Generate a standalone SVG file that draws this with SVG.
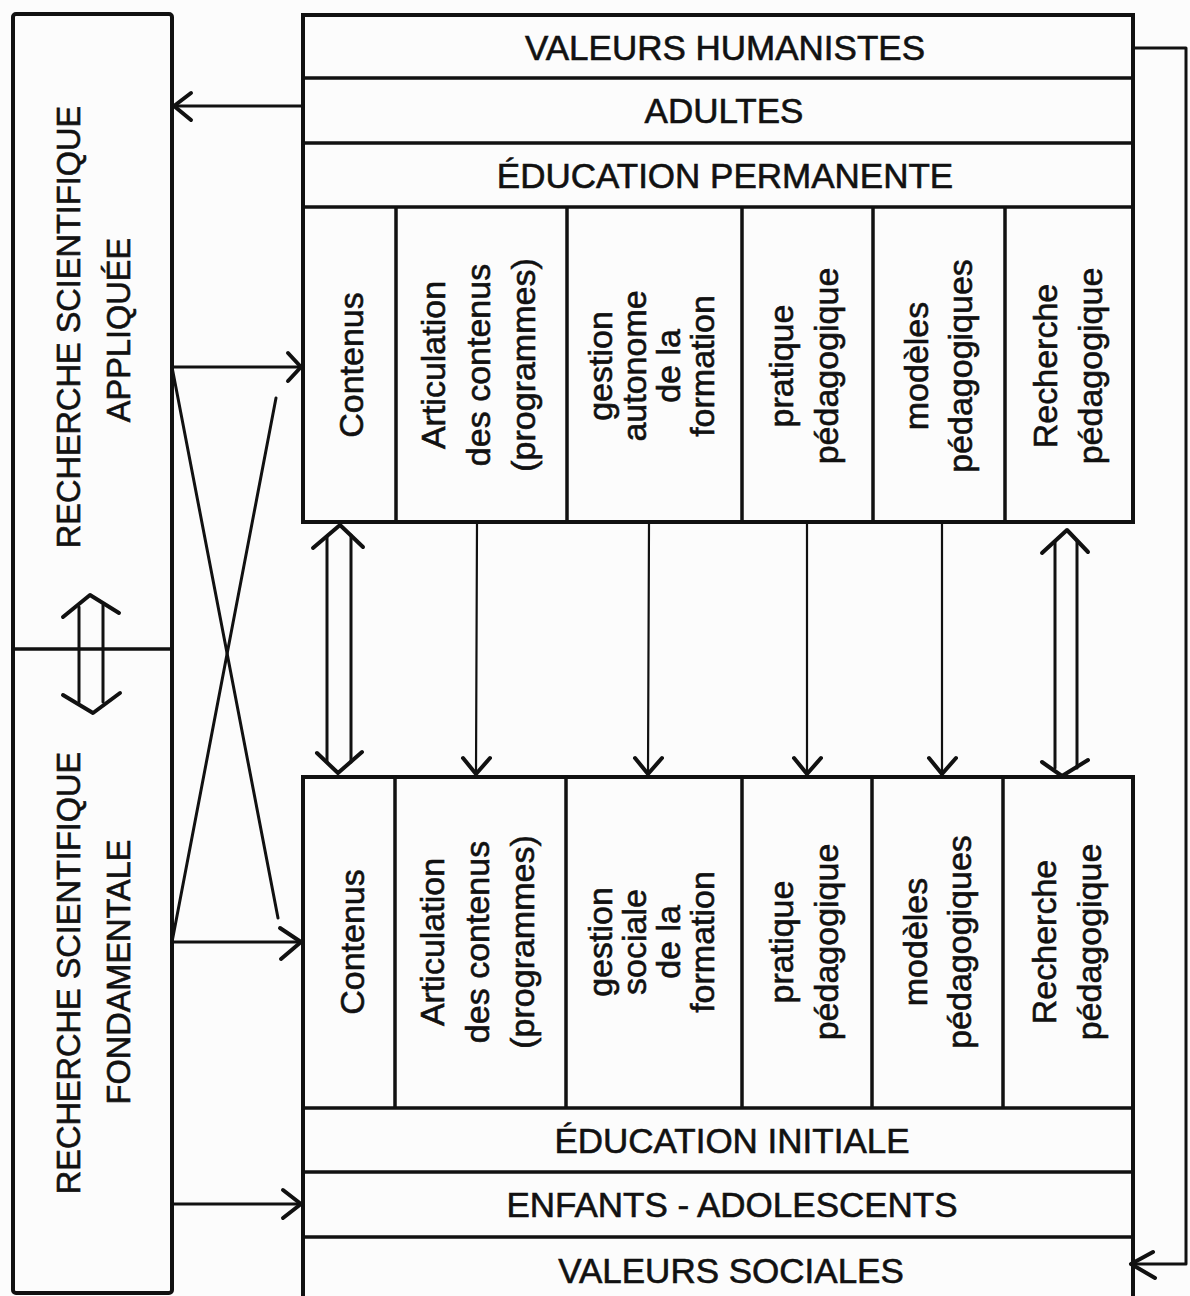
<svg xmlns="http://www.w3.org/2000/svg" width="1190" height="1296" viewBox="0 0 1190 1296">
  <style>
    .box { fill: none; stroke: #111; stroke-width: 4; }
    .div { fill: none; stroke: #111; stroke-width: 3.5; }
    .ln { fill: none; stroke: #111; stroke-width: 3; stroke-linecap: round; stroke-linejoin: round; }
    .thin { fill: none; stroke: #111; stroke-width: 2.2; stroke-linecap: round; }
    .head { fill: none; stroke: #111; stroke-width: 4; stroke-linecap: round; stroke-linejoin: round; }
    .row, .col, .side { font-family: "Liberation Sans", Arial, sans-serif; fill: #111; stroke: #111; stroke-width: 0.6; text-anchor: middle; }
    .row { font-size: 35px; }
    .col { font-size: 34px; }
    .side { font-size: 32.5px; }
  </style>
  <rect x="0" y="0" width="1190" height="1296" fill="#fcfcfc"/>

  <!-- left column: applied / fundamental research -->
  <g id="recherche">
    <rect class="box" x="13" y="14" width="159" height="1279" rx="3"/>
    <line class="div" x1="13" y1="649" x2="172" y2="649"/>
    <g id="recherche-appliquee">
      <text class="side" transform="translate(80,327) rotate(-90)">RECHERCHE SCIENTIFIQUE</text>
      <text class="side" transform="translate(130,330) rotate(-90)">APPLIQUÉE</text>
    </g>
    <g id="recherche-fondamentale">
      <text class="side" transform="translate(80,973) rotate(-90)">RECHERCHE SCIENTIFIQUE</text>
      <text class="side" transform="translate(130,972) rotate(-90)">FONDAMENTALE</text>
    </g>
  </g>

  <!-- upper block: permanent education -->
  <g id="bloc-permanent">
    <rect class="box" x="303" y="15" width="830" height="507"/>
    <line class="div" x1="303" y1="78" x2="1133" y2="78"/>
    <line class="div" x1="303" y1="143" x2="1133" y2="143"/>
    <line class="div" x1="303" y1="207" x2="1133" y2="207"/>
    <line class="div" x1="396" y1="207" x2="396" y2="522"/>
    <line class="div" x1="567" y1="207" x2="567" y2="522"/>
    <line class="div" x1="742" y1="207" x2="742" y2="522"/>
    <line class="div" x1="873" y1="207" x2="873" y2="522"/>
    <line class="div" x1="1005" y1="207" x2="1005" y2="522"/>
    <g id="valeurs-humanistes"><text class="row" x="725" y="60">VALEURS HUMANISTES</text></g>
    <g id="adultes"><text class="row" x="724" y="123">ADULTES</text></g>
    <g id="education-permanente"><text class="row" x="725" y="188">ÉDUCATION PERMANENTE</text></g>
    <g id="p-contenus"><text class="col" transform="translate(363,365) rotate(-90)">Contenus</text></g>
    <g id="p-articulation"><text class="col" transform="translate(445,365) rotate(-90)"><tspan x="0" dy="0">Articulation</tspan><tspan x="0" dy="45">des contenus</tspan><tspan x="0" dy="45">(programmes)</tspan></text></g>
    <g id="p-gestion"><text class="col" transform="translate(612,366) rotate(-90)"><tspan x="0" dy="0">gestion</tspan><tspan x="0" dy="34">autonome</tspan><tspan x="0" dy="34">de la</tspan><tspan x="0" dy="34">formation</tspan></text></g>
    <g id="p-pratique"><text class="col" transform="translate(793,366) rotate(-90)"><tspan x="0" dy="0">pratique</tspan><tspan x="0" dy="45">pédagogique</tspan></text></g>
    <g id="p-modeles"><text class="col" transform="translate(928,366) rotate(-90)"><tspan x="0" dy="0">modèles</tspan><tspan x="0" dy="44">pédagogiques</tspan></text></g>
    <g id="p-recherche"><text class="col" transform="translate(1057,366) rotate(-90)"><tspan x="0" dy="0">Recherche</tspan><tspan x="0" dy="45">pédagogique</tspan></text></g>
  </g>

  <!-- lower block: initial education -->
  <g id="bloc-initial">
    <rect class="box" x="303" y="777" width="830" height="530"/>
    <line class="div" x1="303" y1="1108" x2="1133" y2="1108"/>
    <line class="div" x1="303" y1="1172" x2="1133" y2="1172"/>
    <line class="div" x1="303" y1="1237" x2="1133" y2="1237"/>
    <line class="div" x1="395" y1="777" x2="395" y2="1108"/>
    <line class="div" x1="566" y1="777" x2="566" y2="1108"/>
    <line class="div" x1="742" y1="777" x2="742" y2="1108"/>
    <line class="div" x1="872" y1="777" x2="872" y2="1108"/>
    <line class="div" x1="1003" y1="777" x2="1003" y2="1108"/>
    <g id="i-contenus"><text class="col" transform="translate(364,942) rotate(-90)">Contenus</text></g>
    <g id="i-articulation"><text class="col" transform="translate(444,942) rotate(-90)"><tspan x="0" dy="0">Articulation</tspan><tspan x="0" dy="45">des contenus</tspan><tspan x="0" dy="45">(programmes)</tspan></text></g>
    <g id="i-gestion"><text class="col" transform="translate(612,942) rotate(-90)"><tspan x="0" dy="0">gestion</tspan><tspan x="0" dy="34">sociale</tspan><tspan x="0" dy="34">de la</tspan><tspan x="0" dy="34">formation</tspan></text></g>
    <g id="i-pratique"><text class="col" transform="translate(793,942) rotate(-90)"><tspan x="0" dy="0">pratique</tspan><tspan x="0" dy="45">pédagogique</tspan></text></g>
    <g id="i-modeles"><text class="col" transform="translate(927,942) rotate(-90)"><tspan x="0" dy="0">modèles</tspan><tspan x="0" dy="44">pédagogiques</tspan></text></g>
    <g id="i-recherche"><text class="col" transform="translate(1056,942) rotate(-90)"><tspan x="0" dy="0">Recherche</tspan><tspan x="0" dy="45">pédagogique</tspan></text></g>
    <g id="education-initiale"><text class="row" x="732" y="1153">ÉDUCATION INITIALE</text></g>
    <g id="enfants-adolescents"><text class="row" x="732" y="1217">ENFANTS - ADOLESCENTS</text></g>
    <g id="valeurs-sociales"><text class="row" x="731" y="1283">VALEURS SOCIALES</text></g>
  </g>

  <!-- connectors -->
  <g id="connecteurs">
    <!-- adults -> applied research -->
    <line class="ln" x1="303" y1="106" x2="174" y2="106"/>
    <polyline class="head" points="191,93 174,106 191,120"/>
    <!-- applied research -> contents (upper) -->
    <line class="ln" x1="172" y1="367" x2="301" y2="367"/>
    <polyline class="head" points="288,353 301,367 288,381"/>
    <!-- fundamental research -> contents (lower) -->
    <line class="ln" x1="172" y1="942" x2="301" y2="942"/>
    <polyline class="head" points="280,928 301,942 281,959"/>
    <!-- fundamental research -> children / adolescents -->
    <line class="ln" x1="172" y1="1204" x2="301" y2="1204"/>
    <polyline class="head" points="283,1190 301,1204 283,1218"/>
    <!-- crossing links -->
    <line class="ln" x1="172" y1="367" x2="278" y2="918"/>
    <line class="ln" x1="172" y1="942" x2="276" y2="398"/>

    <!-- hollow double arrow between applied and fundamental research -->
    <line class="ln" x1="79" y1="607" x2="79" y2="702"/>
    <line class="ln" x1="103" y1="605" x2="103" y2="702"/>
    <polyline class="head" points="63,617 90,595 119,613"/>
    <polyline class="head" points="63,695 93,713 120,693"/>

    <!-- hollow double arrow: contents -->
    <line class="ln" x1="327" y1="537" x2="327" y2="762"/>
    <line class="ln" x1="351" y1="535" x2="351" y2="762"/>
    <polyline class="head" points="313,548 340,525 363,547"/>
    <polyline class="head" points="317,753 338,773 362,752"/>

    <!-- hollow double arrow: pedagogical research -->
    <line class="ln" x1="1055" y1="542" x2="1055" y2="768"/>
    <line class="ln" x1="1077" y1="542" x2="1077" y2="768"/>
    <polyline class="head" points="1042,553 1067,530 1088,552"/>
    <polyline class="head" points="1042,762 1062,776 1088,760"/>

    <!-- single downward arrows -->
    <line class="thin" x1="477" y1="523" x2="476" y2="773"/>
    <polyline class="head" points="463,758 476,774 490,758"/>
    <line class="thin" x1="649" y1="523" x2="648" y2="773"/>
    <polyline class="head" points="635,758 648,774 662,758"/>
    <line class="thin" x1="807" y1="523" x2="807" y2="773"/>
    <polyline class="head" points="794,758 807,774 821,758"/>
    <line class="thin" x1="942" y1="523" x2="942" y2="773"/>
    <polyline class="head" points="929,758 942,774 956,758"/>

    <!-- humanist values -> social values -->
    <polyline class="ln" points="1133,48 1186,48 1186,1264 1131,1264"/>
    <polyline class="head" points="1153,1252 1131,1264 1155,1278"/>
  </g>
</svg>
